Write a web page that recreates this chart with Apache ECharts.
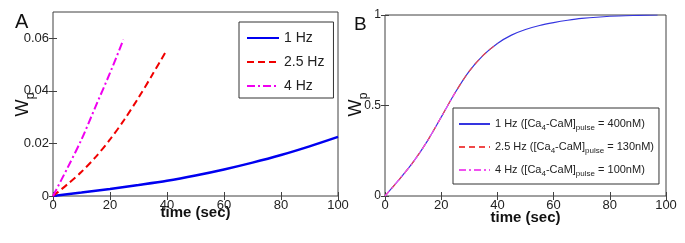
<!DOCTYPE html>
<html>
<head>
	<meta charset="utf-8">
	<title>Wp vs time</title>
	<script type="text/javascript" src="https://cdn.jsdelivr.net/npm/echarts@6/dist/echarts.min.js"></script>
	<style type="text/css">
		html,body{margin:0;padding:0;background:#fff;}
		#main{width:685px;height:243px;}
	</style>
</head>
<body>
<div id="main"></div>
<script type="text/javascript">
	// panel A
	var tA1 = [0, 10, 20, 30, 40, 50, 60, 70, 80, 90, 100];
	var wA1 = [0, 0.0013, 0.0027, 0.0042, 0.0058, 0.0078, 0.0101, 0.0127, 0.0156, 0.0189, 0.0225];
	var tA2 = [0, 5, 10, 15, 20, 25, 30, 35, 40];
	var wA2 = [0, 0.0044, 0.0092, 0.0149, 0.0215, 0.029, 0.0374, 0.0464, 0.0557];
	var tA3 = [0, 5, 10, 15, 20, 24.7];
	var wA3 = [0, 0.0105, 0.0215, 0.0342, 0.0468, 0.0595];
	var yValsA = [0, 0.02, 0.04, 0.06];
	var yTicksA = ['0', '0.02', '0.04', '0.06'];

	// panel B
	var tB1 = [0, 5, 10, 15, 20, 25, 30, 35, 40, 45, 50, 55, 60, 65, 70, 80, 90, 97];
	var wB1 = [0, 0.09, 0.187, 0.302, 0.436, 0.572, 0.69, 0.778, 0.843, 0.889, 0.92, 0.942, 0.958, 0.971, 0.981, 0.993, 0.998, 1.0];
	var tB2 = [0, 5, 10, 15, 20, 25, 30, 35, 40];
	var wB2 = [0, 0.09, 0.187, 0.302, 0.436, 0.572, 0.69, 0.778, 0.843];
	var tB3 = [0, 5, 10, 15, 20, 25];
	var wB3 = [0, 0.09, 0.187, 0.302, 0.436, 0.572];

	var namesA = ['1 Hz', '2.5 Hz', '4 Hz'];
	var namesB = ['1 Hz ', '2.5 Hz ', '4 Hz '];
	var pulseB = ['400nM', '130nM', '100nM'];

	function pairs(t, w){
		var out = [];
		for(var i=0;i<t.length;i++){
			out.push([t[i], w[i]]);
		}
		return out;
	}

	var font = 'Liberation Sans';
	var frame = '#404040';

	function xAx(grid, gap){
		return {
			type: 'value', gridIndex: grid, min: 0, max: 100, interval: 20,
			name: 'time (sec)', nameLocation: 'middle', nameGap: gap, nameMoveOverlap: false,
			nameTextStyle: {fontFamily: font, fontSize: 15, fontWeight: 'bold', color: '#111', verticalAlign: 'top'},
			axisLine: {show: false},
			axisTick: {inside: true, length: 4, lineStyle: {color: frame}},
			axisLabel: {fontFamily: font, fontSize: 13, color: '#222', margin: 3},
			splitLine: {show: false}
		};
	}
	function xTop(grid){
		return {
			type: 'value', gridIndex: grid, min: 0, max: 100, interval: 20, position: 'top',
			axisLine: {show: false},
			axisTick: {inside: true, length: 4, lineStyle: {color: frame}},
			axisLabel: {show: false}, splitLine: {show: false}
		};
	}

	function line(name, xi, yi, data, color, width, type){
		return {
			name: name, type: 'line', xAxisIndex: xi, yAxisIndex: yi,
			data: data, smooth: 0.3, symbol: 'none', animation: false,
			lineStyle: {color: color, width: width, type: type},
			itemStyle: {color: color}
		};
	}

	var myChart = echarts.init(document.getElementById('main'), null, {renderer: 'canvas'});

	var option = {
		backgroundColor: '#fff',
		animation: false,
		grid: [
			{left: 53, top: 12, width: 285, height: 184, show: true, borderColor: frame, borderWidth: 1},
			{left: 385, top: 15, width: 281, height: 181, show: true, borderColor: frame, borderWidth: 1}
		],
		xAxis: [xAx(0, 9), xTop(0), xAx(1, 14), xTop(1)],
		yAxis: [
			{
				type: 'value', gridIndex: 0, min: 0, max: 0.07,
				axisLine: {show: false},
				axisTick: {inside: true, length: 4, lineStyle: {color: frame}, customValues: yValsA},
				axisLabel: {fontFamily: font, fontSize: 13, color: '#222', margin: 4, customValues: yValsA,
					formatter: function(v){ return yTicksA[yValsA.indexOf(v)]; }},
				splitLine: {show: false}
			},
			{
				type: 'value', gridIndex: 0, min: 0, max: 0.07, position: 'right',
				axisLine: {show: false},
				axisTick: {inside: true, length: 4, lineStyle: {color: frame}, customValues: yValsA},
				axisLabel: {show: false}, splitLine: {show: false}
			},
			{
				type: 'value', gridIndex: 1, min: 0, max: 1, interval: 0.5,
				axisLine: {show: false},
				axisTick: {inside: true, length: 4, lineStyle: {color: frame}},
				axisLabel: {fontFamily: font, fontSize: 12, color: '#222', margin: 4},
				splitLine: {show: false}
			},
			{
				type: 'value', gridIndex: 1, min: 0, max: 1, interval: 0.5, position: 'right',
				axisLine: {show: false},
				axisTick: {inside: true, length: 4, lineStyle: {color: frame}},
				axisLabel: {show: false}, splitLine: {show: false}
			}
		],
		legend: [
			{
				data: namesA, orient: 'vertical', left: 239, top: 22,
				padding: [9, 9, 5, 7], itemGap: 10, itemWidth: 32, itemHeight: 14,
				borderColor: '#333', borderWidth: 1, backgroundColor: '#fff',
				itemStyle: {opacity: 0},
				textStyle: {fontFamily: font, fontSize: 14, color: '#222'}
			},
			{
				data: namesB, orient: 'vertical', left: 453, top: 108,
				padding: [8, 5, 6, 5], itemGap: 7, itemWidth: 31, itemHeight: 16,
				borderColor: '#333', borderWidth: 1, backgroundColor: '#fff',
				itemStyle: {opacity: 0},
				formatter: function(name){
					var i = namesB.indexOf(name);
					return name.trim() + ' ([Ca{sub|4}-CaM]{sub|pulse} = ' + pulseB[i] + ')';
				},
				textStyle: {
					fontFamily: font, fontSize: 11, color: '#222', lineHeight: 16,
					rich: {sub: {fontFamily: font, fontSize: 8, color: '#222', verticalAlign: 'bottom', lineHeight: 16, padding: [5, 0, 0, 0]}}
				}
			}
		],
		graphic: [
			{type: 'text', left: 15, top: 12, style: {text: 'A', fontFamily: font, fontSize: 20, fill: '#111'}},
			{type: 'text', left: 354, top: 15, style: {text: 'B', fontFamily: font, fontSize: 19, fill: '#111'}},
			{type: 'text', x: 23, y: 108, rotation: Math.PI / 2, style: {text: 'W', fontFamily: font, fontSize: 18, fill: '#111', align: 'center', verticalAlign: 'middle'}},
			{type: 'text', x: 31, y: 96, rotation: Math.PI / 2, style: {text: 'p', fontFamily: font, fontSize: 12, fill: '#111', align: 'center', verticalAlign: 'middle'}},
			{type: 'text', x: 356, y: 108, rotation: Math.PI / 2, style: {text: 'W', fontFamily: font, fontSize: 18, fill: '#111', align: 'center', verticalAlign: 'middle'}},
			{type: 'text', x: 364, y: 96, rotation: Math.PI / 2, style: {text: 'p', fontFamily: font, fontSize: 12, fill: '#111', align: 'center', verticalAlign: 'middle'}}
		],
		series: [
			line(namesA[0], 0, 0, pairs(tA1, wA1), '#0000f0', 2.5, 'solid'),
			line(namesA[1], 0, 0, pairs(tA2, wA2), '#f00000', 2, [7, 4]),
			line(namesA[2], 0, 0, pairs(tA3, wA3), '#f000f0', 2, [8, 3, 2, 3]),
			line(namesB[0], 2, 2, pairs(tB1, wB1), '#3535e0', 1.2, 'solid'),
			line(namesB[1], 2, 2, pairs(tB2, wB2), '#f04848', 1.2, [6, 4]),
			line(namesB[2], 2, 2, pairs(tB3, wB3), '#f050f0', 1.2, [7, 3, 2, 3])
		]
	};

	myChart.setOption(option);
</script>
</body>
</html>
